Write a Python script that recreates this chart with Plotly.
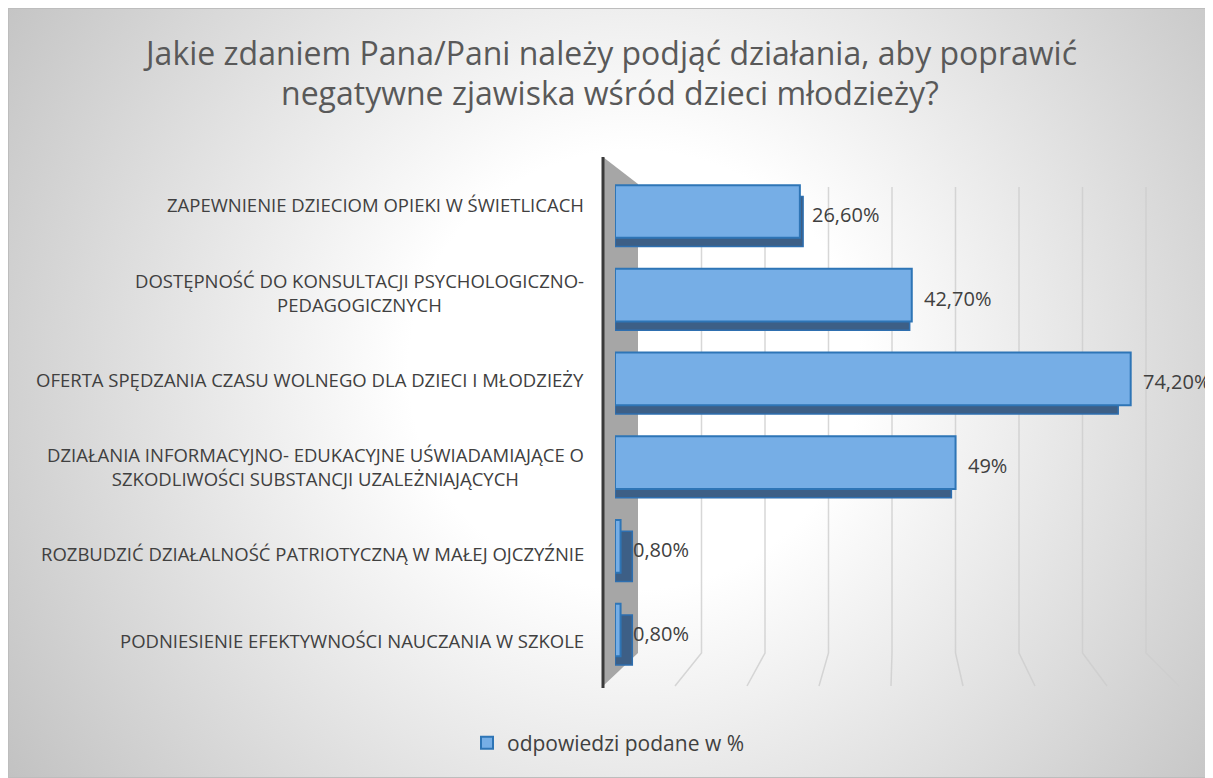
import base64
import plotly.graph_objects as go

# ---------------- data ----------------
categories = [
    "ZAPEWNIENIE DZIECIOM OPIEKI W ŚWIETLICACH",
    "DOSTĘPNOŚĆ DO KONSULTACJI PSYCHOLOGICZNO-<br>PEDAGOGICZNYCH",
    "OFERTA SPĘDZANIA CZASU WOLNEGO DLA DZIECI I MŁODZIEŻY",
    "DZIAŁANIA INFORMACYJNO- EDUKACYJNE UŚWIADAMIAJĄCE O<br>SZKODLIWOŚCI SUBSTANCJI UZALEŻNIAJĄCYCH",
    "ROZBUDZIĆ DZIAŁALNOŚĆ PATRIOTYCZNĄ W MAŁEJ OJCZYŹNIE",
    "PODNIESIENIE EFEKTYWNOŚCI NAUCZANIA W SZKOLE",
]
values = [26.6, 42.7, 74.2, 49.0, 0.8, 0.8]
value_labels = ["26,60%", "42,70%", "74,20%", "49%", "0,80%", "0,80%"]
grid_ticks = [10, 20, 30, 40, 50, 60, 70, 80]
series_name = "odpowiedzi podane w %"
title_lines = ["Jakie zdaniem Pana/Pani należy podjąć działania, aby poprawić",
               "negatywne zjawiska wśród dzieci młodzieży?"]

# ---------------- geometry (screen pixels) ----------------
OFF = 8                      # page body margin
SW, SH = 1213, 778           # window
FW, FH = SW - OFF, SH - OFF  # figure size
FONT = "Open Sans"

def px_x(p):
    return (p - OFF) / FW

def px_y(p):
    return 1 - (p - OFF) / FH

front_zero, front_scale = 615.0, 6.95
back_zero, back_scale = 627.0, 6.62
depth_dy = 10.0
bar_c0, bar_step = 211.5, 83.7
n = len(categories)
xmax = 80
y_top = bar_c0 - bar_step / 2
y_bot = bar_c0 + bar_step * (n - 0.5)
back_base = -(back_zero - front_zero) / back_scale

fig = go.Figure()

# ---- decoration subplot (x, y) in screen-pixel units: wall + gridlines ----
wall_x, wall_back_x = 603.0, 638.0
wall_top, back_top, back_floor, front_floor = 157.0, 184.0, 653.0, 686.0
fig.add_trace(go.Scatter(
    x=[wall_x, wall_back_x, wall_back_x, wall_x, wall_x],
    y=[wall_top, back_top, back_floor, front_floor, wall_top],
    fill="toself", fillcolor="#a6a6a6", mode="lines",
    line=dict(color="#a6a6a6", width=0), hoverinfo="skip", showlegend=False,
    xaxis="x", yaxis="y"))
gx, gy = [], []
for t in grid_ticks:
    bx = wall_back_x + 6.35 * t
    fx = wall_x + 7.2 * t
    gx += [bx, bx, fx, None]
    gy += [back_top + 3, back_floor, front_floor, None]
fig.add_trace(go.Scatter(x=gx, y=gy, mode="lines",
                         line=dict(color="rgba(205,205,205,0.8)", width=1.5),
                         hoverinfo="skip", showlegend=False, xaxis="x", yaxis="y"))
fig.add_trace(go.Scatter(x=[wall_x, wall_x], y=[wall_top, front_floor + 2], mode="lines",
                         line=dict(color="#3a3a3a", width=3),
                         hoverinfo="skip", showlegend=False, xaxis="x", yaxis="y"))

# ---- depth (dark) bars subplot (x2, y2) ----
idx = list(range(n))
fig.add_trace(go.Bar(
    y=idx, x=[v - back_base for v in values], base=back_base,
    orientation="h", width=0.6,
    marker=dict(color="#3d5f86", line=dict(color="#2e6fb0", width=1.5)),
    hoverinfo="skip", showlegend=False, xaxis="x2", yaxis="y2"))

# ---- front bars subplot (x3, y3) ----
fig.add_trace(go.Bar(
    y=idx, x=values, orientation="h", width=0.63, name=series_name,
    marker=dict(color="#76aee6", line=dict(color="#2e75b6", width=2)),
    xaxis="x3", yaxis="y3"))

annotations = []
for i, (v, lab) in enumerate(zip(values, value_labels)):
    annotations.append(dict(x=v, y=i, xref="x3", yref="y3", text=lab, showarrow=False,
                            xanchor="left", yanchor="middle", xshift=10, yshift=-3,
                            font=dict(family=FONT, size=20, color="#404040")))
label_c0, label_step = 205.0, 87.0
for i, c in enumerate(categories):
    annotations.append(dict(x=px_x(586), y=px_y(label_c0 + label_step * i), xref="paper", yref="paper",
                            text=c, showarrow=False, xanchor="right", yanchor="middle",
                            align="center",
                            font=dict(family=FONT, size=18.5, color="#404040")))
title_y = [52, 93]
for line, ty in zip(title_lines, title_y):
    annotations.append(dict(x=px_x(610), y=px_y(ty), xref="paper", yref="paper", text=line,
                            showarrow=False, xanchor="center", yanchor="middle",
                            font=dict(family=FONT, size=32, color="#595959")))

# ---- background gradient ----
svg = ('<svg xmlns="http://www.w3.org/2000/svg" width="1207" height="771" '
       'viewBox="0 0 1207 771" preserveAspectRatio="none">'
       '<defs><radialGradient id="g" cx="0.52" cy="0.47" r="0.5" '
       'gradientTransform="translate(0.52 0.47) scale(1.25 1.9) translate(-0.52 -0.47)">'
       '<stop offset="0" stop-color="#ffffff"/><stop offset="0.3" stop-color="#ffffff"/>'
       '<stop offset="1" stop-color="#c2c2c2"/></radialGradient></defs>'
       '<rect x="0" y="0" width="1207" height="771" fill="url(#g)" stroke="#bdbdbd" stroke-width="2"/></svg>')
src = "data:image/svg+xml;base64," + base64.b64encode(svg.encode()).decode()

hidden = dict(visible=False, showgrid=False, zeroline=False, fixedrange=True)
fig.update_layout(
    width=FW, height=FH,
    margin=dict(l=0, r=0, t=0, b=0),
    paper_bgcolor="white", plot_bgcolor="rgba(0,0,0,0)",
    images=[dict(source=src, xref="paper", yref="paper", x=0, y=1,
                 sizex=1, sizey=1, xanchor="left", yanchor="top",
                 sizing="stretch", layer="below")],
    xaxis=dict(domain=[0, 1], range=[OFF, SW], **hidden),
    yaxis=dict(domain=[0, 1], range=[SH, OFF], **hidden),
    xaxis2=dict(domain=[px_x(front_zero), px_x(back_zero + back_scale * xmax)], range=[back_base, xmax],
                anchor="y2", **hidden),
    yaxis2=dict(domain=[px_y(y_bot + depth_dy), px_y(y_top + depth_dy)], range=[n - 0.5, -0.5],
                anchor="x2", **hidden),
    xaxis3=dict(domain=[px_x(front_zero), px_x(front_zero + front_scale * xmax)], range=[0, xmax],
                anchor="y3", **hidden),
    yaxis3=dict(domain=[px_y(y_bot), px_y(y_top)], range=[n - 0.5, -0.5],
                anchor="x3", **hidden),
    annotations=annotations,
    showlegend=True,
    legend=dict(orientation="h", x=px_x(608), y=px_y(743), xanchor="center", yanchor="middle",
                bgcolor="rgba(0,0,0,0)", itemwidth=30,
                font=dict(family=FONT, size=21, color="#404040")),
    bargap=0.3,
)

fig.write_html("out.html")
